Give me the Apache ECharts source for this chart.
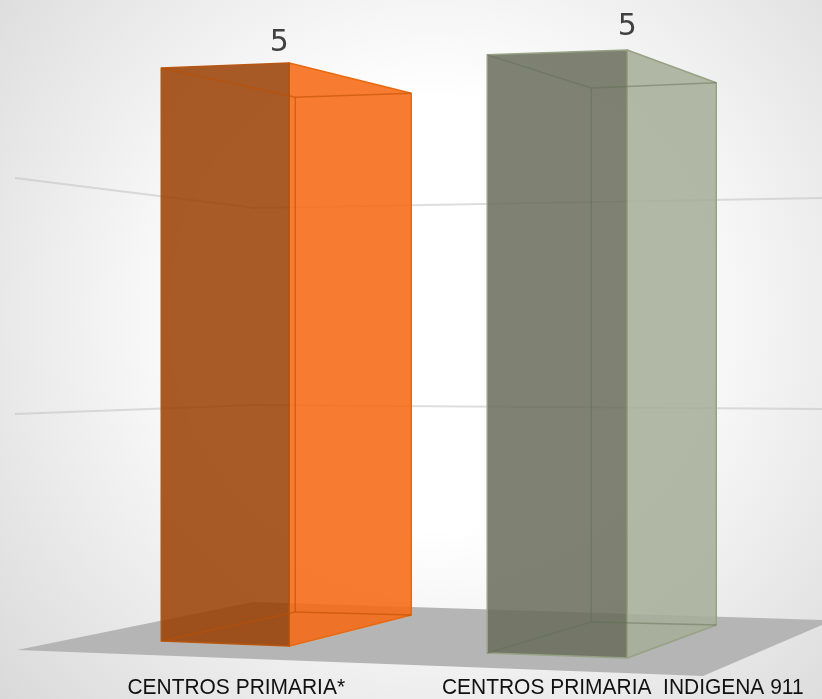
<!DOCTYPE html>
<html><head><meta charset="utf-8">
<style>html,body{margin:0;padding:0;background:#fff}#c{width:822px;height:699px}</style>
<script src="https://cdn.jsdelivr.net/npm/echarts@6/dist/echarts.min.js"></script>
</head><body><div id="c"></div>
<script>
var categories = ['CENTROS PRIMARIA*', 'CENTROS PRIMARIA  INDIGENA 911'];
var values = [5, 5];
var gridValues = [2, 4];

// Perspective layout (not data). Each corner: x offset from the category centre,
// floor y in pixels, and height factor relative to the value axis.
var boxes = [
  { L:[-75,641,.983], F:[53,646,1], R:[175,615,.895], B:[59,612,.883], labelX:43, labelUp:20,
    dark:'rgba(153,61,1,0.85)', light:'rgba(246,106,20,0.88)', edgeD:'#B9560F', edgeL:'#E8690F', inner:'rgba(190,80,0,0.6)' },
  { L:[-135.5,653,1.026], F:[4.5,658,1.043], R:[93.5,625,.93], B:[-31.5,622,.916], labelX:4.5, labelUp:23,
    dark:'rgba(105,108,91,0.85)', light:'rgba(166,174,152,0.88)', edgeD:'#97A285', edgeL:'#97A285', inner:'rgba(95,108,82,0.45)' }
];
var floorPoints = [[17,650],[253,602],[822,620],[822,625],[703,676]];
var gridCorners = [[15,650,1.012],[255,602,.845],[822,620,.905]];
var labelY = 688, labelFont = '22px "Liberation Sans"', labelScale = 0.952;

var chart = echarts.init(document.getElementById('c'), null, {renderer:'canvas'});

function renderBox(params, api) {
  var cat = api.value(0), val = api.value(1);
  var o = api.coord([cat, 0]), t = api.coord([cat, val]);
  var rise = o[1] - t[1], b = boxes[cat];
  function low(c){ return [o[0]+c[0], c[1]]; }
  function top(c){ return [o[0]+c[0], c[1]-rise*c[2]]; }
  function poly(pts, fill, stroke, w){
    return {type:'polygon', shape:{points:pts}, style:{fill:fill, stroke:stroke, lineWidth:w||1.5, lineJoin:'round'}};
  }
  function line(p,q,s){
    return {type:'line', shape:{x1:p[0],y1:p[1],x2:q[0],y2:q[1]}, style:{stroke:s, lineWidth:1.5, fill:null}};
  }
  var kids = [
    poly([top(b.F),top(b.R),low(b.R),low(b.F)], b.light, b.edgeL, 1.5),
    poly([top(b.L),top(b.F),low(b.F),low(b.L)], b.dark, b.edgeD, 1.5),
    line(top(b.L),top(b.B),b.inner),
    line(top(b.B),top(b.R),b.inner),
    line(top(b.B),low(b.B),b.inner),
    line(low(b.L),low(b.B),b.inner),
    line(low(b.B),low(b.R),b.inner),
    {type:'text', style:{text:String(val), x:o[0]+b.labelX, y:top(b.F)[1]-b.labelUp, align:'center', verticalAlign:'middle',
      fill:'#404040', font:'30px "DejaVu Sans"'}},
    {type:'text', x:o[0], y:labelY, scaleX:labelScale, style:{text:categories[cat], x:0, y:0, align:'center', verticalAlign:'middle',
      fill:'#111', font:labelFont}}
  ];
  return {type:'group', children:kids};
}

function renderGrid(params, api) {
  var v = api.value(0);
  var rise = api.coord([0,0])[1] - api.coord([0,v])[1];
  var pts = gridCorners.map(function(c){ return [c[0], c[1]-rise*c[2]]; });
  return {type:'polyline', shape:{points:pts}, style:{stroke:'rgba(190,190,190,0.5)', lineWidth:2, fill:null}};
}

function renderFloor() {
  return {type:'polygon', shape:{points:floorPoints}, style:{fill:'#B5B5B5'}};
}

chart.setOption({
  animation:false,
  backgroundColor:{type:'radial', x:0.53, y:0.45, r:0.85, colorStops:[
    {offset:0,color:'#ffffff'},{offset:0.36,color:'#ffffff'},{offset:1,color:'#d8d8d8'}]},
  grid:{left:43, width:773, top:63, bottom:53},
  xAxis:{type:'category', data:categories, axisLine:{show:false}, axisTick:{show:false}, splitLine:{show:false}, axisLabel:{show:false}},
  yAxis:{type:'value', min:0, max:5, show:false, splitLine:{show:false}},
  series:[
    {type:'custom', coordinateSystem:'cartesian2d', silent:true, clip:false, data:[[0]], renderItem:renderFloor, encode:{x:0,y:0}, z:1},
    {type:'custom', coordinateSystem:'cartesian2d', silent:true, clip:false, data:gridValues.map(function(v){return [v];}), renderItem:renderGrid, encode:{y:0}, z:2},
    {type:'custom', coordinateSystem:'cartesian2d', silent:true, clip:false, data:values.map(function(v,i){return [i,v];}), renderItem:renderBox, encode:{x:0,y:1}, z:3}
  ]
});
</script></body></html>
